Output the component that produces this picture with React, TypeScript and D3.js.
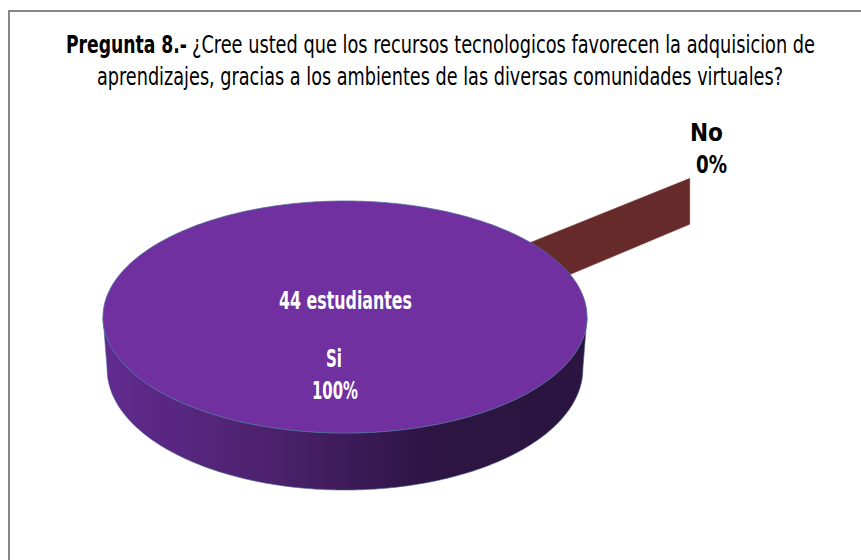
import * as d3 from "d3";

// chart data
const categories = ["Si", "No"];
const students = [44, 0];
const percentLabels = ["100%", "0%"];
const countLabel = "44 estudiantes";
const sliceColors = ["#7030a0", "#672a2a"];
const explodeBy = [0, 0.86];

const titleBold = "Pregunta 8.-";
const titleRest = "¿Cree usted que los recursos tecnologicos favorecen la adquisicion de";
const titleLine2 = "aprendizajes, gracias a los ambientes de las diversas comunidades virtuales?";

const W = 861;
const H = 560;
const FONT = "'Liberation Sans Narrow', 'DejaVu Sans Condensed', 'Roboto Condensed', sans-serif";

// 3d pie geometry
const cx = 345;
const cy = 317;
const R = 242;
const tilt = 116 / 242;
const depth = 52;
const rotation = (50 * Math.PI) / 180;

function top(a: number, r: number): [number, number] {
  return [cx + r * Math.sin(a), cy - r * Math.cos(a) * tilt];
}
function persp(y: number) {
  return depth * (1 + (y - cy) / 1200);
}
function bottom(a: number, r: number, shrink = 1): [number, number] {
  const [, y] = top(a, r);
  return [cx + r * shrink * Math.sin(a), y + persp(y)];
}

export default function App() {
  const arcs = d3
    .pie<number>()
    .sort(null)
    .startAngle(rotation)
    .endAngle(rotation + 2 * Math.PI)(students);

  const closed = d3.line().curve(d3.curveLinearClosed);

  // Si slice: top face + front side
  const si = arcs[0];
  const steps = d3.range(0, 361).map((i) => si.startAngle + ((si.endAngle - si.startAngle) * i) / 360);
  const topPath = closed(steps.map((a) => top(a, R)));
  const front = d3.range(0, 181).map((i) => Math.PI / 2 + (Math.PI * i) / 180);
  const sidePts = [
    ...front.map((a) => top(a, R)),
    ...front.slice().reverse().map((a) => bottom(a, R, 0.983)),
  ];
  const sidePath = closed(sidePts);

  // No slice: zero-width exploded wedge, only its vertical face shows
  const no = arcs[1];
  const e = explodeBy[1] * R;
  const a = no.startAngle;
  const sliver = closed([top(a, e), top(a, e + R), bottom(a, e + R), bottom(a, e)]);
  const noAnchor = top(a, e + R + 25);

  return (
    <svg
      width={W}
      height={H}
      style={{ position: "fixed", left: 0, top: 0, background: "#fff" }}
      fontFamily={FONT}
    >
      <defs>
        <linearGradient id="side" gradientUnits="userSpaceOnUse" x1={cx - R} x2={cx + R} y1={0} y2={0}>
          <stop offset="0" stopColor="#612b90" />
          <stop offset="0.35" stopColor="#4c216c" />
          <stop offset="0.68" stopColor="#2d1442" />
          <stop offset="1" stopColor="#2c1440" />
        </linearGradient>
      </defs>
      <rect x={9} y={11} width={880} height={620} fill="#fff" stroke="#878787" strokeWidth={2} />

      <g fill="#000" fontSize={25}>
        <text x={66} y={53} fontWeight="bold" textLength={121} lengthAdjust="spacingAndGlyphs">
          {titleBold}
        </text>
        <text x={192} y={53} textLength={623} lengthAdjust="spacingAndGlyphs">
          {titleRest}
        </text>
        <text x={97} y={85} textLength={686} lengthAdjust="spacingAndGlyphs">
          {titleLine2}
        </text>
      </g>

      <path d={sliver ?? ""} fill={sliceColors[1]} stroke="#8a4a4a" strokeWidth={0.5} />
      <path d={sidePath ?? ""} fill="url(#side)" stroke="#4d6b9a" strokeWidth={0.6} />
      <path d={topPath ?? ""} fill={sliceColors[0]} stroke="#4d6b9a" strokeWidth={0.8} />

      <g fill="#fff" fontWeight="bold" fontSize={25}>
        <text x={cx - 66} y={cy - 8} textLength={133} lengthAdjust="spacingAndGlyphs">
          {countLabel}
        </text>
        <text x={cx - 19} y={cy + 50} textLength={16} lengthAdjust="spacingAndGlyphs">
          {categories[0]}
        </text>
        <text x={cx - 33} y={cy + 82} textLength={46} lengthAdjust="spacingAndGlyphs">
          {percentLabels[0]}
        </text>
      </g>
      <g fill="#000" fontWeight="bold" fontSize={25}>
        <text x={noAnchor[0] - 19} y={noAnchor[1] - 30} textLength={33} lengthAdjust="spacingAndGlyphs">
          {categories[1]}
        </text>
        <text x={noAnchor[0] - 13} y={noAnchor[1] + 2} textLength={31} lengthAdjust="spacingAndGlyphs">
          {percentLabels[1]}
        </text>
      </g>
    </svg>
  );
}
